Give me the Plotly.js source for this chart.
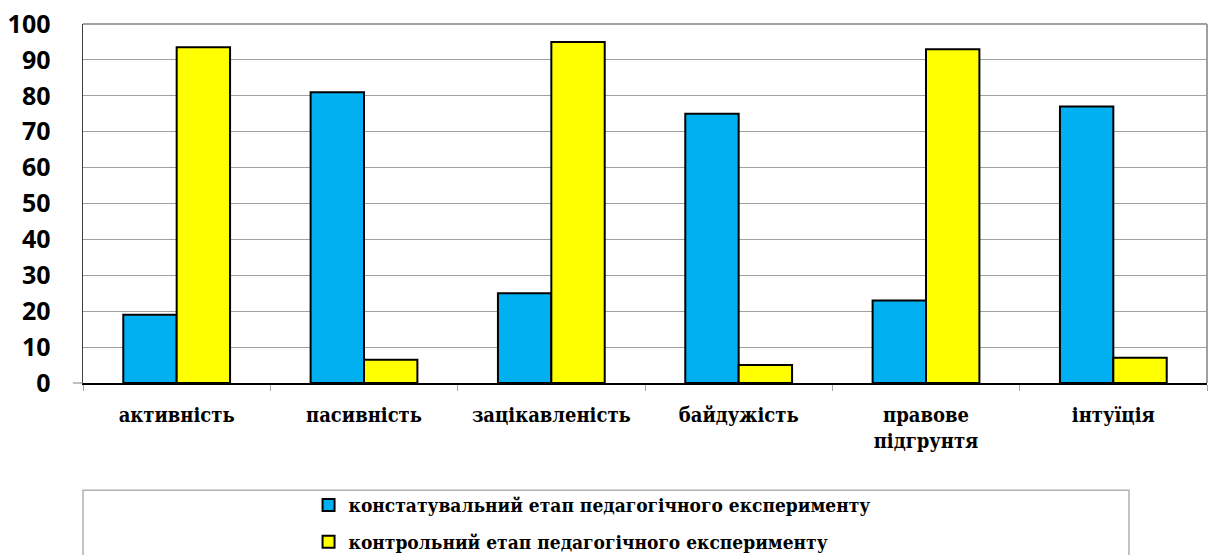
<!DOCTYPE html>
<html>
<head>
<meta charset="utf-8">
<script src="https://cdn.plot.ly/plotly-3.0.1.min.js"></script>
<style>
  html, body { margin: 0; padding: 0; background: #ffffff; }
  #chart { width: 1210px; height: 555px; }
</style>
</head>
<body>
<div id="chart"></div>
<script>
// Categories (x axis) and values per stage of the pedagogical experiment
const categories = ['активність', 'пасивність', 'зацікавленість', 'байдужість', 'правове<br>підгрунтя', 'інтуїція'];
const stageNames = ['констатувальний етап педагогічного експерименту', 'контрольний етап педагогічного експерименту'];
const ascertainingValues = [19, 81, 25, 75, 23, 77];
const controlValues = [93.5, 6.5, 95, 5, 93, 7];
const yTickValues = [0, 10, 20, 30, 40, 50, 60, 70, 80, 90, 100];

const serif = 'DejaVu Serif Condensed';

const traces = [
  {
    type: 'bar',
    name: stageNames[0],
    x: categories,
    y: ascertainingValues,
    legendgroup: 'a',
    marker: { color: '#00B0F0', line: { color: '#000000', width: 2 } },
    hoverinfo: 'x+y'
  },
  {
    type: 'bar',
    name: stageNames[1],
    x: categories,
    y: controlValues,
    legendgroup: 'b',
    marker: { color: '#FFFF00', line: { color: '#000000', width: 2 } },
    hoverinfo: 'x+y'
  }
];

const layout = {
  width: 1210,
  height: 555,
  margin: { l: 83, r: 3, t: 24, b: 172, autoexpand: false },
  paper_bgcolor: '#ffffff',
  plot_bgcolor: '#ffffff',
  barmode: 'group',
  bargap: 0.43,
  bargroupgap: 0,
  showlegend: true,
  legend: {
    xref: 'container',
    yref: 'container',
    x: 0.255,
    xanchor: 'left',
    y: 0.124,
    yanchor: 'top',
    orientation: 'v',
    traceorder: 'grouped',
    tracegroupgap: 9,
    bgcolor: 'rgba(0,0,0,0)',
    borderwidth: 0,
    font: { family: serif, size: 19, color: '#000000', weight: 'bold' }
  },
  xaxis: {
    type: 'category',
    automargin: false,
    showgrid: false,
    showline: true,
    linecolor: '#000000',
    linewidth: 1.5,
    ticks: 'outside',
    tickson: 'boundaries',
    ticklen: 6,
    tickcolor: '#a6a6a6',
    tickwidth: 1,
    ticklabelstandoff: 13,
    tickfont: { family: serif, size: 20, color: '#000000', weight: 'bold' },
    fixedrange: true
  },
  yaxis: {
    range: [0, 100],
    automargin: false,
    tickvals: yTickValues,
    ticktext: yTickValues.map(String),
    showgrid: true,
    gridcolor: '#a0a0a0',
    gridwidth: 1,
    zeroline: false,
    showline: true,
    linecolor: '#404040',
    linewidth: 1.5,
    ticks: '',
    ticklabelstandoff: 26,
    tickfont: { family: 'Open Sans', size: 25, color: '#000000', weight: 'bold' },
    fixedrange: true
  },
  shapes: [
    // top and right frame of the plotting area
    { type: 'line', xref: 'paper', yref: 'paper', x0: 0, x1: 1, y0: 1, y1: 1, line: { color: '#a0a0a0', width: 2 } },
    { type: 'line', xref: 'paper', yref: 'paper', x0: 1, x1: 1, y0: 0, y1: 1, line: { color: '#a0a0a0', width: 2 } },
    // short stub of the category axis left of the value axis
    { type: 'line', xref: 'paper', yref: 'paper', x0: -0.009, x1: 0, y0: 0, y1: 0, line: { color: '#808080', width: 1 } },
    // legend frame
    { type: 'rect', xref: 'paper', yref: 'paper', x0: 0, x1: 0.9306, y0: -0.2985, y1: -0.52, line: { color: '#b0b0b0', width: 1.5 }, fillcolor: 'rgba(0,0,0,0)' }
  ]
};

Plotly.newPlot('chart', traces, layout, { displayModeBar: false, staticPlot: true });
</script>
</body>
</html>
